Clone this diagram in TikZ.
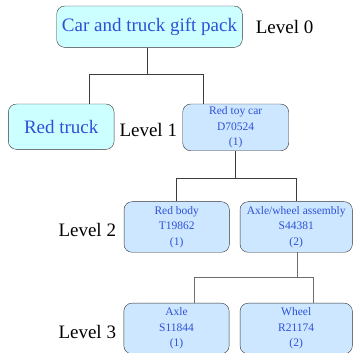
\documentclass[tikz,border=0pt]{standalone}
\usepackage{fontspec}
\setmainfont{Liberation Serif}
\usepackage{xcolor}
\usepackage{tikz}
\usetikzlibrary{positioning, calc}
\definecolor{PackCyan}{HTML}{CCFFFF}
\definecolor{PartBlue}{HTML}{CCE7FF}
\definecolor{InkBlue}{HTML}{2E50D8}
\definecolor{BoxEdge}{HTML}{333333}
\definecolor{TrunkGray}{HTML}{3C3C3C}
\definecolor{LinkGray}{HTML}{6E6E6E}

\begin{document}
\begin{tikzpicture}[x=1pt, y=1pt,
    bigbox/.style={draw=BoxEdge, fill=PackCyan, rounded corners=8pt, text=InkBlue,
      inner sep=0pt, font=\fontsize{19}{22}\selectfont},
    partbox/.style={draw=BoxEdge, fill=PartBlue, rounded corners=8pt, text=InkBlue,
      inner sep=0pt, align=center, font=\fontsize{11.5}{15.5}\selectfont},
    lvl/.style={anchor=west, inner sep=0pt, font=\fontsize{19}{22}\selectfont},
    trunk/.style={draw=TrunkGray, line width=0.8pt},
    link/.style={draw=LinkGray, line width=1pt}]
  \useasboundingbox (0,0) rectangle (353,353);
  % level 0 and 1
  \node[bigbox, minimum width=185.6, minimum height=41.3] (top) at (149.5,326.3) {Car and truck gift pack};
  \node[bigbox, minimum width=105.7, minimum height=45.3] (truck) at (61.2,226.3) {Red truck};
  \node[partbox, minimum width=106, minimum height=46.7] (car) at (235.7,225.6) {Red toy car\\D70524\\(1)};
  % level 2 and 3
  \node[partbox, minimum width=105.3, minimum height=50.6] (body) at (176.7,126) {Red body\\T19862\\(1)};
  \node[partbox, minimum width=112.3, minimum height=50.6] (axlewheel) at (296.2,126) {Axle/wheel assembly\\S44381\\(2)};
  \node[partbox, minimum width=105.3, minimum height=50.6] (axle) at (176.5,24.5) {Axle\\S11844\\(1)};
  \node[partbox, minimum width=112.3, minimum height=50.6] (wheel) at (296.2,24.5) {Wheel\\R21174\\(2)};
  % level labels
  \node[lvl] (lvl0) at (255.6,326.3) {Level 0};
  \node[lvl] (lvl1) at (119.3,223) {Level 1};
  \node[lvl] (lvl2) at (58.3,123) {Level 2};
  \node[lvl] (lvl3) at (58.3,21.3) {Level 3};
  % connectors
  \draw[trunk] ([xshift=-2pt]top.south) -- ++(0,-27) coordinate (j0);
  \draw[trunk] ([xshift=28pt]truck.north) |- (j0) -| ([xshift=-32.7pt]car.north);
  \draw[trunk] (car.south) -- ++(0,-27) coordinate (j1);
  \draw[trunk] (body.north) |- (j1) -| (axlewheel.north);
  \draw[link] ([xshift=0.8pt]axlewheel.south) -- ++(0,-25.4) coordinate (j2);
  \draw[link] ([xshift=18.2pt]axle.north) |- (j2) -| ([xshift=17.5pt]wheel.north);
\end{tikzpicture}
\end{document}
